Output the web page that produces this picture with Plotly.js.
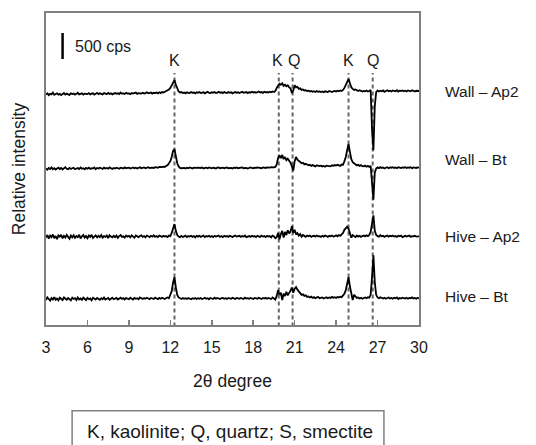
<!DOCTYPE html>
<html>
<head>
<meta charset="utf-8">
<script src="https://cdn.plot.ly/plotly-3.0.1.min.js"></script>
<style>html,body{margin:0;padding:0;background:#fff;}#chart{width:536px;height:445px;}</style>
</head>
<body>
<div id="chart"></div>
<script>
// 2θ scan grid: 3.0° to 30.0°, 0.1° step
const scanStart = 3.0, scanStep = 0.1, scanCount = 271;

// Intensities (cps, relative to each pattern's own baseline), one row per degree
const wallAp2 = [
 -30,-5,-40,-15,-25,10,-35,-20,-5,-30,
 -15,-40,-20,0,-30,-10,-25,-35,-5,-20,
 -10,-30,-15,5,-25,-20,-5,-30,-10,-15,
 -20,0,-25,-10,-5,-30,-10,5,-20,-5,
 -15,-25,0,-10,-20,5,-15,-5,-25,-10,
 0,-15,-5,-20,10,-10,-5,-15,5,-10,
 -5,-20,0,-10,-5,10,-15,0,-5,-10,
 5,-10,0,15,-5,0,10,-10,5,0,
 10,-5,15,0,20,10,25,30,50,70,
 100,150,220,250,160,70,30,10,20,0,
 10,-5,15,5,0,20,5,10,-5,15,
 5,20,0,10,15,-5,10,25,5,0,
 15,5,20,0,10,25,5,15,0,20,
 10,0,20,5,15,-5,10,20,5,15,
 0,15,25,5,10,20,0,15,10,25,
 10,20,5,15,30,10,20,5,25,15,
 20,10,25,15,30,20,40,100,150,180,
 160,190,140,160,130,150,110,90,0,50,
 150,110,120,80,90,60,70,50,55,40,
 45,30,40,25,35,20,40,25,30,20,
 30,15,35,25,20,40,30,20,35,40,
 30,45,35,50,40,60,100,160,230,270,
 190,110,80,60,70,50,40,55,45,30,
 40,35,50,30,40,60,-700,-1100,-250,20,
 50,30,45,35,50,25,40,55,35,45,
 30,50,40,35,55,30,45,40,50,35,
 45,30,50,40,35,55,40,30,45,40,
 40];

const wallBt = [
 -20,-45,-10,-30,0,-35,-15,-40,-20,-5,
 -30,-10,-40,-20,5,-25,-35,-10,-30,-15,
 -5,-35,-20,-10,-30,0,-25,-15,-35,-10,
 -25,-5,-30,-15,-20,0,-35,-10,-20,-5,
 -15,-30,-5,-20,-10,-25,0,-15,-30,-10,
 -20,-5,-15,-25,-5,-10,-20,0,-15,-10,
 -5,-20,-10,0,-15,-5,-20,-10,5,-15,
 -10,0,-15,-5,5,-10,0,-5,-10,5,
 0,-5,10,0,5,15,10,30,40,80,
 120,200,320,350,200,80,20,-10,-15,-5,
 -10,-20,-5,-15,0,-10,-20,-5,-15,-10,
 -5,-15,-10,0,-20,-10,-5,-15,0,-10,
 -15,-5,-10,-20,-5,0,-15,-10,-5,-15,
 -10,0,-15,-5,-10,-20,-5,-10,0,-15,
 -5,-10,0,-15,-5,-10,-20,-5,0,-10,
 -15,-5,-10,0,-10,-5,-15,0,-5,-10,
 0,-10,-5,5,-5,0,10,60,180,230,
 180,240,160,200,140,170,130,90,20,-60,
 120,200,150,120,110,80,90,60,70,50,
 40,50,30,45,35,20,40,30,25,35,
 20,30,15,35,25,30,20,40,30,45,
 35,50,40,30,55,50,120,200,330,450,
 300,160,100,70,60,40,50,30,45,25,
 20,35,15,30,10,30,-300,-620,-100,-20,
 0,-15,5,-10,0,-20,-5,5,-15,0,
 -5,5,-10,0,-15,5,-5,-10,0,-5,
 5,-10,0,-5,5,-15,0,-5,-10,0,
 -5];

const hiveAp2 = [
 -30,20,-50,10,-20,30,-40,0,-60,15,
 -10,25,-45,5,-30,20,-15,-50,10,-25,
 15,-35,0,-20,25,-45,-5,20,-30,0,
 -40,10,-15,25,-35,-5,15,-25,5,-20,
 20,-30,0,-15,10,-40,15,-10,-25,5,
 -20,10,-35,0,20,-15,-5,-30,10,-10,
 5,-25,15,-10,-30,10,-5,-20,0,15,
 -15,0,-25,10,-5,-20,5,-10,15,-15,
 0,-20,10,-5,-15,5,-10,0,-20,10,
 0,60,150,230,100,20,-10,-20,5,-15,
 -5,10,-20,0,-10,5,-15,0,-25,5,
 -10,5,-15,-5,10,-20,0,-10,5,-15,
 0,-20,5,-10,-5,10,-15,0,-20,5,
 -10,0,-15,5,-5,-20,0,10,-10,-5,
 5,-15,0,-10,10,-20,-5,0,-15,5,
 -10,0,-20,5,-5,-15,10,-10,0,-20,
 5,-10,0,-25,10,-5,-40,-20,60,-60,
 40,100,-30,80,20,110,50,90,190,60,
 120,30,60,10,40,-10,20,0,-15,10,
 -5,10,-15,0,5,-10,10,-5,0,-15,
 5,-10,10,0,-15,5,-5,10,-10,0,
 15,-5,20,5,30,60,120,150,180,140,
 60,-30,20,0,-20,10,-10,5,-15,0,
 10,-5,15,0,20,80,250,400,100,20,
 0,-10,15,-5,5,-15,0,10,-10,5,
 -5,10,-10,0,-15,5,-5,10,-20,0,
 5,-10,0,10,-15,0,-5,5,-10,0,
 -5];

const hiveBt = [
 -40,10,-20,-50,0,-30,15,-35,-10,-45,
 5,-25,-40,10,-15,-35,0,-20,-45,5,
 -20,-5,-40,10,-30,-10,-35,5,-20,-40,
 0,-25,-10,-45,5,-20,-30,0,-15,-35,
 -5,-25,10,-30,-15,0,-35,-10,5,-25,
 -15,0,-30,-10,5,-20,-5,-30,0,-15,
 -25,5,-10,-30,0,-15,-5,-25,10,-10,
 -20,0,-15,5,-10,-25,0,-5,-20,5,
 -10,-25,0,-15,5,-10,-20,0,10,-5,
 50,130,300,400,200,60,10,-10,-20,0,
 -15,-5,-20,0,-10,-25,-5,-15,0,-20,
 -5,-15,0,-20,-10,5,-15,-5,-25,0,
 -10,-20,5,-15,0,-10,-20,-5,0,-15,
 -5,-20,0,-10,-15,5,-10,-20,0,-5,
 -15,0,-10,-20,5,-10,-5,-15,0,-10,
 -20,0,-5,-15,5,-10,-20,0,-10,5,
 -15,0,-10,-20,10,-5,-30,40,150,60,
 100,-40,80,40,120,50,90,140,200,100,
 180,210,160,120,90,60,70,40,50,20,
 30,10,25,0,15,-5,10,20,-5,5,
 10,-10,5,15,-5,10,0,20,5,15,
 0,20,10,25,15,40,80,150,260,400,
 220,100,-40,60,20,0,10,-10,5,-15,
 0,10,-5,15,5,60,400,820,300,60,
 10,-5,15,0,-10,5,-15,0,10,-10,
 0,-15,5,-5,10,-20,0,-10,5,-5,
 -10,5,-15,0,-5,10,-10,0,-15,5,
 -10];

const sampleNames = ['Wall \u2013 Ap2', 'Wall \u2013 Bt', 'Hive \u2013 Ap2', 'Hive \u2013 Bt'];
const patterns = [wallAp2, wallBt, hiveAp2, hiveBt];

// Mineral reflections (2θ) and their labels
const peakPositions = [12.3, 19.85, 20.85, 24.9, 26.65];
const peakLabels = ['K', 'K', 'Q', 'K', 'Q'];
const peakLabelShift = [0, -1, 1, 0, 0];

const scaleBarCps = 500;
const footnote = 'K, kaolinite; Q, quartz; S, smectite';

// ---- layout / styling (not data) ----
const stackOffsets = [4460, 3030, 1710, 520];
const labelY = [0.748, 0.529, 0.284, 0.09];
const twoTheta = Array.from({length: scanCount}, (_, i) => +(scanStart + scanStep * i).toFixed(1));

const FONT = 'Liberation Sans, Arial, sans-serif';
const TXT = '#1a1a1a';

const traces = patterns.map((p, k) => ({
  x: twoTheta,
  y: p.map(v => v + stackOffsets[k]),
  type: 'scatter', mode: 'lines',
  line: {color: '#000', width: 1.8},
  hoverinfo: 'skip', showlegend: false
}));

const shapes = peakPositions.map(px => ({
  type: 'line', xref: 'x', yref: 'paper', x0: px, x1: px, y0: -0.005, y1: 0.808,
  line: {color: '#666', width: 2, dash: '4px,3px'}, layer: 'below'
}));
shapes.push({type: 'line', xref: 'x', yref: 'y', x0: 4.2, x1: 4.2, y0: 5115, y1: 5115 + scaleBarCps,
  line: {color: '#000', width: 2.5}});
shapes.push({type: 'rect', xref: 'paper', yref: 'paper', x0: 0.07, x1: 0.906, y0: -0.275, y1: -0.45,
  line: {color: '#808080', width: 1.5}, fillcolor: 'rgba(0,0,0,0)'});

const annotations = [];
peakPositions.forEach((px, i) => annotations.push({
  x: px, y: 0.849, xref: 'x', yref: 'paper', text: peakLabels[i], showarrow: false,
  xshift: peakLabelShift[i], font: {family: FONT, size: 16, color: TXT}, xanchor: 'center', yanchor: 'middle'
}));
sampleNames.forEach((n, i) => annotations.push({
  x: 1.064, y: labelY[i], xref: 'paper', yref: 'paper', text: n, showarrow: false,
  xanchor: 'left', yanchor: 'middle', font: {family: FONT, size: 15.5, color: TXT}
}));
annotations.push({x: 4.95, y: 5365, xref: 'x', yref: 'y', text: scaleBarCps + ' cps', showarrow: false,
  xanchor: 'left', yanchor: 'middle', font: {family: FONT, size: 16, color: TXT}});
annotations.push({x: 0.493, y: -0.34, xref: 'paper', yref: 'paper', text: footnote, showarrow: false,
  xanchor: 'center', yanchor: 'middle', font: {family: FONT, size: 19, color: TXT}});

const layout = {
  width: 536, height: 445,
  margin: {l: 46, r: 117, t: 13, b: 120},
  paper_bgcolor: '#fff', plot_bgcolor: '#fff',
  showlegend: false,
  xaxis: {
    range: [3, 30], tickvals: [3, 6, 9, 12, 15, 18, 21, 24, 27, 30],
    ticks: 'inside', ticklen: 5, tickwidth: 1.5, tickcolor: '#808080',
    ticklabelstandoff: 7,
    showline: true, mirror: true, linecolor: '#808080', linewidth: 2,
    showgrid: false, zeroline: false,
    tickfont: {family: FONT, size: 16, color: TXT},
    title: {text: '2\u03b8 degree', font: {family: FONT, size: 17.5, color: TXT}, standoff: 20}
  },
  yaxis: {
    range: [0, 6000], showticklabels: false, ticks: '',
    showline: true, mirror: true, linecolor: '#808080', linewidth: 2,
    showgrid: false, zeroline: false,
    title: {text: 'Relative intensity', font: {family: FONT, size: 17.5, color: TXT}, standoff: 14}
  },
  shapes: shapes,
  annotations: annotations
};

Plotly.newPlot('chart', traces, layout, {staticPlot: true, displayModeBar: false});
</script>
</body>
</html>
